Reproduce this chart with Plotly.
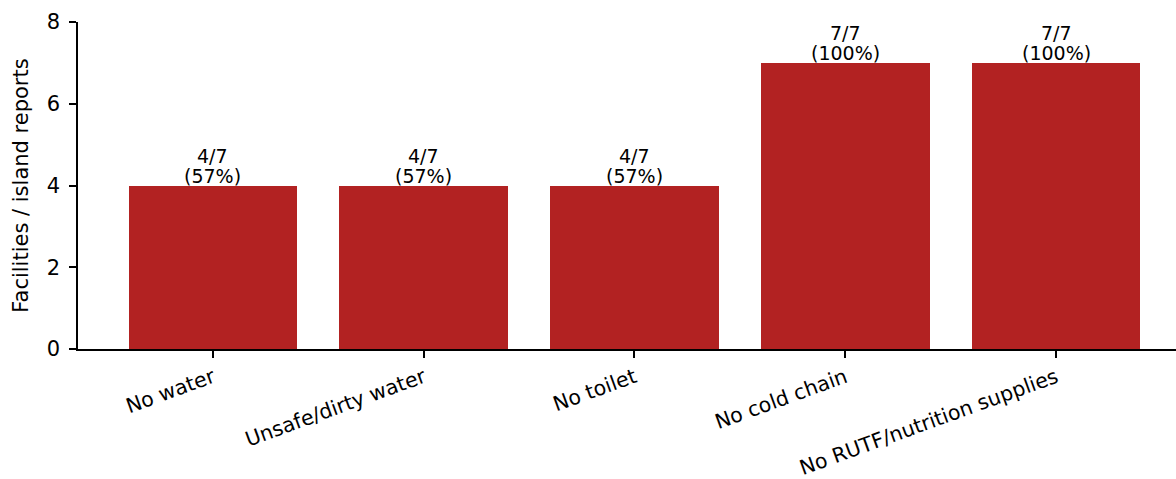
import plotly.graph_objects as go

categories = ["No water", "Unsafe/dirty water", "No toilet", "No cold chain", "No RUTF/nutrition supplies"]
counts = [4, 4, 4, 7, 7]
totals = [7, 7, 7, 7, 7]
y_ticks = [0, 2, 4, 6, 8]

FONT = "DejaVu Sans"
fig = go.Figure()
fig.add_trace(go.Bar(
    x=list(range(len(categories))), y=counts, width=0.8,
    marker=dict(color="#b22222", line=dict(width=0)),
))
for i, (c, t) in enumerate(zip(counts, totals)):
    fig.add_annotation(x=i, y=c, text=f"{c}/{t}", showarrow=False,
                       xanchor="center", yanchor="bottom", yshift=17,
                       font=dict(family=FONT, size=19, color="black"))
    fig.add_annotation(x=i, y=c, text=f"({round(100*c/t)}%)", showarrow=False,
                       xanchor="center", yanchor="bottom", yshift=-3,
                       font=dict(family=FONT, size=19, color="black"))

fig.update_layout(
    width=1176, height=479,
    margin=dict(l=78, r=0, t=22, b=130),
    plot_bgcolor="white", paper_bgcolor="white",
    showlegend=False, bargap=0,
    font=dict(family=FONT, color="black"),
    xaxis=dict(range=[-0.64, 4.569], tickmode="array", tickvals=list(range(len(categories))),
               ticktext=categories, tickangle=-20, showline=True, linecolor="black", linewidth=1.5,
               ticks="outside", ticklen=7, tickwidth=1.5, tickcolor="black", automargin=False,
               showgrid=False, zeroline=False, tickfont=dict(family=FONT, size=20.5)),
    yaxis=dict(range=[0, 8], tickvals=y_ticks, showline=True, linecolor="black", linewidth=1.5,
               ticks="outside", ticklen=7, tickwidth=1.5, tickcolor="black", ticklabelstandoff=5,
               automargin=False,
               showgrid=False, zeroline=False, tickfont=dict(family=FONT, size=21),
               title=dict(text="Facilities / island reports", font=dict(family=FONT, size=21), standoff=12)),
)
fig.write_html("out.html")
